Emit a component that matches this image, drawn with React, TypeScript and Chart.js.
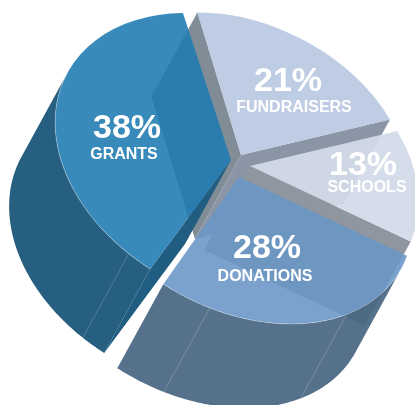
import React, { useEffect, useRef } from "react";
import { Chart, registerables } from "chart.js";

Chart.register(...registerables);

// Funding sources, clockwise from twelve o'clock.
const sourceNames = ["FUNDRAISERS", "SCHOOLS", "DONATIONS", "GRANTS"];
const sourceShares = [21, 13, 28, 38];

// Depth of the slab, shared by every slice.
const DEPTH = { x: -46, y: 84 };

// How each exploded slice sits on the page and how its faces are painted.
// The tilt maps a unit disc with x = a*cos + c*sin, y = b*sin, after turning it by rot.
const sliceStyles = [
  { ox: 241, oy: 155, a: 165, c: 43.6, b: 142.6, rot: 0, top: "rgba(184,200,226,0.92)", rim: "#808c98", edgeStart: "#808c96", edgeEnd: "#8a96a5", seams: [] as number[], label: [47, -73, 53, -47] },
  { ox: 250, oy: 166, a: 163, c: 43.2, b: 141, rot: 0, top: "rgba(211,219,233,0.94)", rim: null, edgeStart: null, edgeEnd: "#8f96a0", seams: [] as number[], label: [113, 0, 117, 22] },
  { ox: 239, oy: 177, a: 166, c: 52, b: 147, rot: 0, top: "rgba(105,150,198,0.885)", rim: "rgba(72,102,130,0.93)", edgeStart: null, edgeEnd: null, seams: [0.365, 0.84], label: [28, 72, 26, 100] },
  { ox: 231, oy: 160, a: 170, c: 45, b: 147, rot: -0.018, top: "rgba(31,123,177,0.885)", rim: "#265f7f", edgeStart: "#215d80", edgeEnd: null, seams: [0.06], label: [-104, -31, -107, -5] },
];

// Painting order of the slab sides: back slices first.
const SIDE_ORDER = [0, 1, 3, 2];

type Pt = { x: number; y: number };
type SliceStyle = (typeof sliceStyles)[number];

function project(s: SliceStyle, angle: number): Pt {
  const cos = Math.cos(angle + s.rot);
  const sin = Math.sin(angle + s.rot);
  return { x: s.ox + s.a * cos + s.c * sin, y: s.oy + s.b * sin };
}

const shift = (p: Pt): Pt => ({ x: p.x + DEPTH.x, y: p.y + DEPTH.y });

function fillPolygon(ctx: CanvasRenderingContext2D, pts: Pt[], color: string) {
  ctx.beginPath();
  pts.forEach((p, i) => (i ? ctx.lineTo(p.x, p.y) : ctx.moveTo(p.x, p.y)));
  ctx.closePath();
  ctx.fillStyle = color;
  ctx.fill();
}

function strokeLine(ctx: CanvasRenderingContext2D, pts: Pt[], color: string, width: number) {
  ctx.beginPath();
  pts.forEach((p, i) => (i ? ctx.lineTo(p.x, p.y) : ctx.moveTo(p.x, p.y)));
  ctx.strokeStyle = color;
  ctx.lineWidth = width;
  ctx.stroke();
}

// Samples of a slice's rim that face the viewer, given the extrusion direction.
function frontRim(s: SliceStyle, start: number, end: number): Pt[] {
  const v = DEPTH.y / s.b;
  const u = (DEPTH.x - s.c * v) / s.a;
  const pts: Pt[] = [];
  const steps = 160;
  for (let i = 0; i <= steps; i++) {
    const angle = start + ((end - start) * i) / steps;
    if (Math.cos(angle + s.rot) * u + Math.sin(angle + s.rot) * v > 0) pts.push(project(s, angle));
  }
  return pts;
}

const slabPie = {
  id: "slabPie",
  beforeDatasetsDraw(chart: Chart) {
    const ctx = chart.ctx;
    const arcs = chart.getDatasetMeta(0).data as any[];

    // Sides of the slab, which show through the translucent top faces.
    SIDE_ORDER.forEach((i) => {
      const s = sliceStyles[i];
      const { startAngle, endAngle } = arcs[i].getProps(["startAngle", "endAngle"], true);
      const apex = { x: s.ox, y: s.oy };
      if (s.edgeStart) {
        const p = project(s, startAngle);
        fillPolygon(ctx, [apex, p, shift(p), shift(apex)], s.edgeStart);
      }
      if (s.edgeEnd) {
        const p = project(s, endAngle);
        fillPolygon(ctx, [apex, p, shift(p), shift(apex)], s.edgeEnd);
      }
      if (s.rim) {
        const rim = frontRim(s, startAngle, endAngle);
        if (rim.length > 1) {
          fillPolygon(ctx, [...rim, ...rim.map(shift).reverse()], s.rim);
        }
        s.seams.forEach((f) => {
          const p = project(s, startAngle + (endAngle - startAngle) * f);
          strokeLine(ctx, [p, shift(p)], "rgba(255,255,255,0.25)", 0.8);
        });
      }
    });

    // Top faces: the library's own arc elements, drawn through the tilt.
    arcs.forEach((arc, i) => {
      const s = sliceStyles[i];
      const { x, y, outerRadius: R } = arc.getProps(["x", "y", "outerRadius"], true);
      ctx.save();
      ctx.transform(s.a / R, 0, s.c / R, s.b / R, s.ox, s.oy);
      ctx.rotate(s.rot);
      ctx.translate(-x, -y);
      arc.draw(ctx);
      ctx.restore();
    });

    // Thin highlight where a top face meets its side.
    arcs.forEach((arc, i) => {
      const s = sliceStyles[i];
      if (!s.rim) return;
      const { startAngle, endAngle } = arc.getProps(["startAngle", "endAngle"], true);
      strokeLine(ctx, frontRim(s, startAngle, endAngle), "rgba(255,255,255,0.4)", 0.7);
    });

    // Percentages and source names.
    ctx.save();
    ctx.fillStyle = "#ffffff";
    ctx.textAlign = "center";
    ctx.textBaseline = "middle";
    sourceNames.forEach((name, i) => {
      const s = sliceStyles[i];
      const [px, py, nx, ny] = s.label;
      ctx.font = 'bold 34px "Liberation Sans"';
      ctx.fillText(`${sourceShares[i]}%`, s.ox + px, s.oy + py);
      ctx.font = 'bold 16px "Liberation Sans"';
      ctx.fillText(name, s.ox + nx, s.oy + ny);
    });
    ctx.restore();

    return false;
  },
};

export default function App() {
  const canvasRef = useRef<HTMLCanvasElement>(null);

  useEffect(() => {
    document.body.style.margin = "0";
    const chart = new Chart(canvasRef.current!, {
      type: "pie",
      data: {
        labels: sourceNames,
        datasets: [
          {
            data: sourceShares,
            backgroundColor: sliceStyles.map((s) => s.top),
            borderWidth: 0,
          },
        ],
      },
      options: {
        responsive: false,
        animation: false,
        layout: { padding: 0 },
        plugins: { legend: { display: false }, tooltip: { enabled: false } },
      },
      plugins: [slabPie],
    });
    return () => chart.destroy();
  }, []);

  return <canvas ref={canvasRef} width={415} height={405} style={{ display: "block" }} />;
}
